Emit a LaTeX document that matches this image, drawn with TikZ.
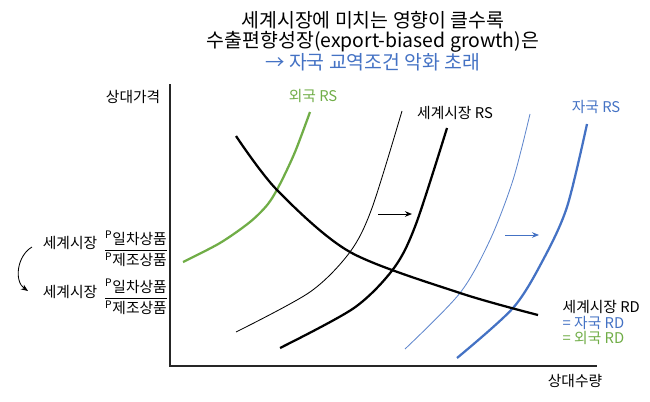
\documentclass[tikz,border=0pt]{standalone}
\usepackage{amsmath}
\usepackage{fontspec}
\setmainfont{Noto Sans CJK KR}
\usetikzlibrary{arrows.meta}

\definecolor{rsgreen}{HTML}{70AD47}
\definecolor{rsblue}{HTML}{4472C4}

\tikzset{
    lbl/.style={font=\fontsize{10.5}{12}\selectfont, inner sep=1pt},
    thincurve/.style={line width=0.6pt},
    thickcurve/.style={line width=1.6pt},
    shiftarrow/.style={-{Stealth[length=5pt,width=4pt]}, line width=0.7pt},
}

\begin{document}
\begin{tikzpicture}[x=0.025cm,y=-0.025cm]
    \useasboundingbox (0,0) rectangle (650,401);

    % title
    \node (title) at (373,41) [align=center, font=\fontsize{13.8}{14.3}\selectfont]
        {세계시장에 미치는 영향이 클수록\\
         수출편향성장(export-biased growth)은\\
         \textcolor{rsblue}{→ 자국 교역조건 악화 초래}};

    % axes
    \coordinate (ytop) at (170,84);
    \coordinate (origin) at (170,366);
    \coordinate (xend) at (597,366);
    \draw[line width=0.8pt, black!85] (ytop) -- (origin) -- (xend);
    \node[lbl, anchor=east] (ylab) at (162,97) {상대가격};
    \node[lbl] (xlab) at (575,381) {상대수량};

    % relative supply curves
    \draw[thickcurve, rsgreen] plot[smooth] coordinates {(183,262) (220,243) (250,222) (268,204) (280,184) (295,152) (310,112)}; % foreign RS
    \draw[thincurve] plot[smooth] coordinates {(236,332) (310,292) (350,252) (372,208) (402,111)}; % world RS before
    \draw[thickcurve] plot[smooth] coordinates {(280,348) (354,308) (394,268) (416,224) (447,128)}; % world RS after
    \draw[thincurve, rsblue!85] plot[smooth] coordinates {(405,349) (460,293) (490,240) (513,180) (530,114)}; % home RS before
    \draw[thickcurve, rsblue] plot[smooth] coordinates {(457,358) (513,308) (543,260) (567,207) (587,124)}; % home RS after

    % relative demand
    \draw[thickcurve] plot[smooth] coordinates {(236,136) (277,190) (350,252) (460,293) (538,315)};

    % shifts
    \coordinate (ws0) at (378,214);
    \coordinate (ws1) at (412,214);
    \draw[shiftarrow] (ws0) -- (ws1);
    \coordinate (hs0) at (505,235);
    \coordinate (hs1) at (539,235);
    \draw[shiftarrow, rsblue] (hs0) -- (hs1);

    % curve labels
    \node[lbl, text=rsgreen] (frs) at (313,96) {외국 RS};
    \node[lbl] (wrs) at (455,113) {세계시장 RS};
    \node[lbl, text=rsblue] (hrs) at (596,107) {자국 RS};
    \node[lbl, anchor=west] (wrd) at (561,307) {세계시장 RD};
    \node[lbl, anchor=west, text=rsblue] (hrd) at (561,323) {= 자국 RD};
    \node[lbl, anchor=west, text=rsgreen] (frd) at (561,338) {= 외국 RD};

    % terms of trade
    \node[lbl] (tot0) at (70,243) {세계시장};
    \node[lbl] (frac0) at (136,249)
        {$\dfrac{\text{\textsuperscript{P}일차상품}}{\text{\textsuperscript{P}제조상품}}$};
    \node[lbl] (tot1) at (70,292) {세계시장};
    \node[lbl] (frac1) at (136,297)
        {$\dfrac{\text{\textsuperscript{P}일차상품}}{\text{\textsuperscript{P}제조상품}}$};
    \coordinate (tt0) at (32,247);
    \coordinate (tt1) at (28,291);
    \draw[-{Stealth[length=5pt,width=4pt]}, line width=0.6pt] (tt0) to[out=210,in=145] (tt1);
\end{tikzpicture}
\end{document}
